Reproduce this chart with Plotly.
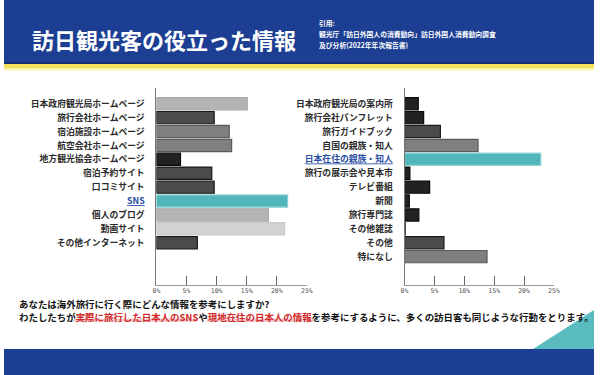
import plotly.graph_objects as go

# ---------------- data ----------------
left_labels = ["日本政府観光局ホームページ", "旅行会社ホームページ", "宿泊施設ホームページ",
               "航空会社ホームページ", "地方観光協会ホームページ", "宿泊予約サイト",
               "口コミサイト", "SNS", "個人のブログ", "動画サイト", "その他インターネット"]
left_values = [15.1, 9.6, 12.1, 12.5, 4.0, 9.2, 9.6, 21.8, 18.6, 21.3, 6.8]

right_labels = ["日本政府観光局の案内所", "旅行会社パンフレット", "旅行ガイドブック",
                "自国の親族・知人", "日本在住の親族・知人", "旅行の展示会や見本市",
                "テレビ番組", "新聞", "旅行専門誌", "その他雑誌", "その他", "特になし"]
right_values = [2.3, 3.2, 6.0, 12.3, 22.8, 0.9, 4.2, 0.8, 2.4, 0.1, 6.6, 13.8]

tick_values = [0, 5, 10, 15, 20, 25]
tick_labels = ["0%", "5%", "10%", "15%", "20%", "25%"]
highlight_left = "SNS"
highlight_right = "日本在住の親族・知人"

title_text = "訪日観光客の役立った情報"
source_lines = ["引用:", "観光庁「訪日外国人の消費動向」訪日外国人消費動向調査", "及び分析(2022年年次報告書)"]

# ---------------- styles ----------------
FONT = "Noto Sans CJK JP"
BLUE = "#1c3f94"
TEAL = "#52b5b9"
shade = {"L": "#b4b4b4", "XL": "#d2d2d2", "M": "#7f7f7f", "D": "#4b4b4b", "K": "#222222", "T": TEAL}
edge = {"L": "#a8a8a8", "XL": "#c8c8c8", "M": "#5a5a5a", "D": "#1a1a1a", "K": "#0a0a0a", "T": "#8fd3d5"}
left_shades = ["L", "D", "M", "M", "K", "D", "D", "T", "L", "XL", "D"]
right_shades = ["K", "K", "D", "M", "T", "K", "K", "K", "K", "K", "D", "M"]

W, H = 600, 375
def px(x): return x / W
def py(y): return 1 - y / H

def fmt(labels, hl):
    out = []
    for l in labels:
        if l == hl:
            out.append(f"<span style='color:#2b4ea2'><u>{l}</u></span>")
        else:
            out.append(l)
    return out

fig = go.Figure()
fig.add_trace(go.Bar(
    x=left_values, y=left_labels, orientation="h", xaxis="x", yaxis="y",
    marker=dict(color=[shade[s] for s in left_shades],
                line=dict(color=[edge[s] for s in left_shades], width=1.2)),
    width=0.88, hoverinfo="x+y", showlegend=False))
fig.add_trace(go.Bar(
    x=right_values, y=right_labels, orientation="h", xaxis="x2", yaxis="y2",
    marker=dict(color=[shade[s] for s in right_shades],
                line=dict(color=[edge[s] for s in right_shades], width=1.2)),
    width=0.88, hoverinfo="x+y", showlegend=False))

yrange = [13.04, -1.13]
xcommon = dict(range=[0, 25], tickvals=tick_values, ticktext=tick_labels, ticks="inside", ticklen=9,
               tickcolor="#666", tickwidth=1, showline=True, linecolor="#999", linewidth=1,
               showgrid=False, zeroline=False, ticklabelstandoff=-1,
               tickfont=dict(family="DejaVu Sans Mono", size=6.5, color="#555"),
               fixedrange=True)
ycommon = dict(type="category", range=yrange, showline=True, linecolor="#777", linewidth=1,
               showgrid=False, zeroline=False, ticks="", ticklabelstandoff=9,
               tickfont=dict(family=FONT, size=8.8, color="#2a2a2a", weight=600), fixedrange=True)

fig.update_layout(
    width=W, height=H, margin=dict(l=0, r=0, t=0, b=0),
    paper_bgcolor="white", plot_bgcolor="rgba(0,0,0,0)",
    font=dict(family=FONT),
    bargap=0.12,
    xaxis=dict(domain=[px(155), px(308)], anchor="y", **xcommon),
    yaxis=dict(domain=[py(285), py(88)], anchor="x", tickvals=left_labels,
               ticktext=fmt(left_labels, highlight_left), **ycommon),
    xaxis2=dict(domain=[px(407.3), px(559.3)], anchor="y2", **xcommon),
    yaxis2=dict(domain=[py(285), py(88)], anchor="x2", tickvals=right_labels,
                ticktext=fmt(right_labels, highlight_right), **ycommon),
)

shapes = [
    dict(type="rect", xref="paper", yref="paper", x0=0, x1=1, y0=py(63), y1=1,
         fillcolor=BLUE, line_width=0, layer="below"),
    dict(type="rect", xref="paper", yref="paper", x0=0, x1=1, y0=py(64), y1=py(62.5),
         fillcolor="#122c6a", line_width=0, layer="below"),
    dict(type="rect", xref="paper", yref="paper", x0=0, x1=1, y0=py(68), y1=py(64),
         fillcolor="#f4e35a", line_width=0, layer="below"),
    dict(type="rect", xref="paper", yref="paper", x0=0, x1=1, y0=py(70.5), y1=py(68),
         fillcolor="#fbf4b0", line_width=0, layer="below"),
    dict(type="rect", xref="paper", yref="paper", x0=0, x1=1, y0=0, y1=py(349),
         fillcolor=BLUE, line_width=0, layer="below"),
    dict(type="path", xref="paper", yref="paper",
         path=f"M {px(538)},{py(349)} L 1,{py(349)} L 1,{py(310)} Z",
         fillcolor="#5bbcbf", line_width=0, layer="below"),
    # marker-style highlights under red phrases
    dict(type="rect", xref="paper", yref="paper", x0=px(71), x1=px(196), y0=py(322), y1=py(318.5),
         fillcolor="#f6c9cc", line_width=0, layer="below"),
    dict(type="rect", xref="paper", yref="paper", x0=px(206), x1=px(315), y0=py(322), y1=py(318.5),
         fillcolor="#f6c9cc", line_width=0, layer="below"),
]
fig.update_layout(shapes=shapes)

ann = [
    dict(text=f"<b>{title_text}</b>", x=px(26), y=py(39), xanchor="left", yanchor="middle",
         font=dict(family=FONT, size=22, color="white")),
]
for i, line in enumerate(source_lines):
    ann.append(dict(text=f"<b>{line}</b>", x=px(318), y=py(23.5 + i * 10.5), xanchor="left",
                    yanchor="middle", font=dict(family=FONT, size=6.8, color="white")))

line1 = "あなたは海外旅行に行く際にどんな情報を参考にしますか?"
red1 = "実際に旅行した日本人のSNS"
red2 = "現地在住の日本人の情報"
line2 = ("わたしたちが<span style='color:#d02a2a'>" + red1 + "</span>や<span style='color:#d02a2a'>"
         + red2 + "</span>を参考にするように、多くの訪日客も同じような行動をとります。")
ann.append(dict(text=f"<b>{line1}</b>", x=px(13), y=py(303.5), xanchor="left", yanchor="middle",
                font=dict(family=FONT, size=9.45, color="#111")))
ann.append(dict(text=f"<b>{line2}</b>", x=px(13), y=py(317), xanchor="left", yanchor="middle",
                font=dict(family=FONT, size=9.45, color="#111")))
for a in ann:
    a.update(xref="paper", yref="paper", showarrow=False)
fig.update_layout(annotations=ann)

fig.write_html("out.html", config={"displayModeBar": False},
               post_script="document.body.style.margin='0';document.body.style.overflow='hidden';")
